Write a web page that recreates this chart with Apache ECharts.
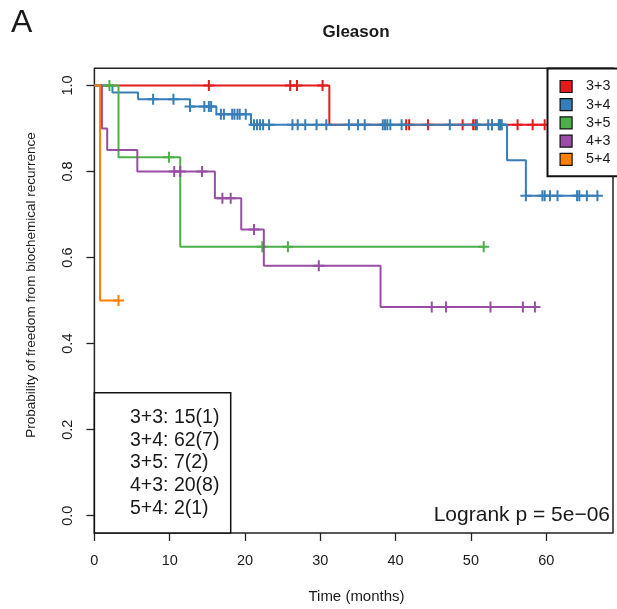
<!DOCTYPE html>
<html>
<head>
<meta charset="utf-8">
<script src="https://cdn.jsdelivr.net/npm/echarts@6/dist/echarts.min.js"></script>
<style>
  html, body { margin: 0; padding: 0; background: #fff; }
  #chart { width: 617px; height: 609px; }
</style>
</head>
<body>
<div id="chart"></div>
<script>
// Kaplan-Meier curves of freedom from biochemical recurrence by Gleason score
const groups = ['3+3', '3+4', '3+5', '4+3', '5+4'];
const totals = [15, 62, 7, 20, 2];
const eventCounts = [1, 7, 2, 8, 1];
const colors = ['#E41A1C', '#377EB8', '#4DAF4A', '#984EA3', '#FF7F00'];

// event times (months) and survival estimate after each event
const eventTimes33 = [31.2];
const eventSurv33 = [0.909];
const censor33 = [15.2, 26.0, 26.9, 30.3, 41.4, 41.8, 44.3, 48.9, 50.3, 50.6, 52.8, 53.8, 56.2, 58.2, 59.8];

const eventTimes34 = [2.4, 5.8, 12.7, 16.2, 20.8, 54.8, 57.3];
const eventSurv34 = [0.984, 0.968, 0.951, 0.933, 0.909, 0.826, 0.744];
const censor34 = [7.8, 10.5, 12.7, 14.6, 15.2, 15.5, 16.8, 17.2, 18.3, 18.6, 19.0, 19.3, 20.1,
  21.2, 21.6, 22.0, 22.4, 23.2, 26.3, 27.0, 28.0, 29.5, 30.8, 33.8, 35.0, 35.9, 38.3, 38.6,
  38.9, 39.3, 40.8, 47.2, 50.8, 52.3, 52.8, 53.7, 53.9, 54.1, 57.3, 59.5, 59.8, 60.5, 61.5,
  64.1, 64.4, 65.4, 66.8];

const eventTimes35 = [3.2, 11.4];
const eventSurv35 = [0.833, 0.625];
const censor35 = [2.0, 9.9, 22.3, 25.7, 51.7];

const eventTimes43 = [1.0, 1.7, 5.7, 16.0, 19.5, 22.5, 38.0];
const eventSurv43 = [0.90, 0.85, 0.80, 0.738, 0.665, 0.581, 0.485];
const censor43 = [10.6, 11.4, 14.3, 17.0, 18.1, 21.2, 29.8, 44.8, 46.7, 52.6, 56.9, 58.5];

const eventTimes54 = [0.75];
const eventSurv54 = [0.5];
const censor54 = [3.2];

const xTicks = [0, 10, 20, 30, 40, 50, 60];
const yTicks = [0, 0.2, 0.4, 0.6, 0.8, 1.0];
const yTickLabels = ['0.0', '0.2', '0.4', '0.6', '0.8', '1.0'];
const pValueText = 'Logrank p = 5e\u221206';

const curves = [
  { t: eventTimes33, s: eventSurv33, c: censor33 },
  { t: eventTimes34, s: eventSurv34, c: censor34 },
  { t: eventTimes35, s: eventSurv35, c: censor35 },
  { t: eventTimes43, s: eventSurv43, c: censor43 },
  { t: eventTimes54, s: eventSurv54, c: censor54 }
];

function survAt(curve, time) {
  let v = 1;
  curve.t.forEach((et, i) => { if (et <= time) v = curve.s[i]; });
  return v;
}

const FONT = '"Liberation Sans", Arial, Helvetica, sans-serif';
const INK = '#1a1a1a';
const plusPath = 'path://M4.5,0H6.5V4.5H11V6.5H6.5V11H4.5V6.5H0V4.5H4.5Z';

const series = [];
curves.forEach((cv, gi) => {
  const last = Math.max(...cv.c, ...cv.t);
  const pts = [[0, 1]];
  cv.t.forEach((et, i) => pts.push([et, cv.s[i]]));
  pts.push([last, survAt(cv, last)]);
  series.push({
    name: groups[gi],
    type: 'line',
    step: 'end',
    data: pts,
    showSymbol: false,
    symbol: 'none',
    lineStyle: { color: colors[gi], width: 2 },
    itemStyle: { color: colors[gi] },
    emphasis: { disabled: true },
    z: 2 + gi * 2
  });
  series.push({
    name: groups[gi] + ' censored',
    type: 'scatter',
    data: cv.c.map(ct => [ct, survAt(cv, ct)]),
    symbol: plusPath,
    symbolSize: 11,
    itemStyle: { color: colors[gi], opacity: 1 },
    emphasis: { disabled: true },
    z: 3 + gi * 2
  });
});

const countLines = groups.map((g, i) => g + ': ' + totals[i] + '(' + eventCounts[i] + ')').join('\n');

const chart = echarts.init(document.getElementById('chart'), null, { renderer: 'canvas' });
chart.setOption({
  animation: false,
  backgroundColor: '#fff',
  textStyle: { fontFamily: FONT },
  grid: {
    left: 94.4, right: 4, top: 68.3, bottom: 76.1,
    show: true, borderColor: '#222', borderWidth: 1.5, backgroundColor: 'transparent'
  },
  xAxis: {
    type: 'value', min: 0, max: 68.87,
    axisLine: { show: false, onZero: false },
    splitLine: { show: false },
    axisTick: { show: true, length: 8, lineStyle: { color: '#222', width: 1.3 }, customValues: xTicks },
    axisLabel: { customValues: xTicks, margin: 21, fontSize: 14.5, color: INK, fontFamily: FONT }
  },
  yAxis: {
    type: 'value', min: -0.04, max: 1.04,
    axisLine: { show: false, onZero: false },
    splitLine: { show: false },
    axisTick: { show: true, length: 8, lineStyle: { color: '#222', width: 1.3 }, customValues: yTicks },
    axisLabel: {
      customValues: yTicks, rotate: 90, margin: 19, fontSize: 14.5, color: INK, fontFamily: FONT,
      formatter: v => yTickLabels[yTicks.findIndex(t => Math.abs(t - v) < 1e-9)]
    }
  },
  legend: {
    data: groups,
    orient: 'vertical',
    left: 547.5, top: 68.5,
    padding: [11, 40, 10, 12],
    itemWidth: 12, itemHeight: 12, itemGap: 4.2,
    icon: 'rect',
    backgroundColor: '#fff',
    borderColor: '#111', borderWidth: 2,
    itemStyle: { borderColor: '#111', borderWidth: 1.2 },
    textStyle: { fontSize: 14.3, color: INK, fontFamily: FONT, lineHeight: 14, padding: [0, 0, 0, 9] },
    selectedMode: false
  },
  graphic: [
    { type: 'text', left: 11, top: 7, style: { text: 'A', font: '32px ' + FONT, fill: INK } },
    { type: 'text', x: 356, y: 32, style: { text: 'Gleason', font: 'bold 17px ' + FONT, fill: INK, align: 'center', verticalAlign: 'middle' } },
    { type: 'text', x: 356.5, y: 597, style: { text: 'Time (months)', font: '15px ' + FONT, fill: INK, align: 'center', verticalAlign: 'middle' } },
    { type: 'text', x: 31.7, y: 285, rotation: Math.PI / 2, style: { text: 'Probability of freedom from biochemical recurrence', font: '13.5px ' + FONT, fill: INK, align: 'center', verticalAlign: 'middle' } },
    { type: 'rect', z: 20, shape: { x: 94.4, y: 392.7, width: 136.3, height: 140.2 }, style: { fill: '#fff', stroke: '#111', lineWidth: 1.5 } },
    { type: 'text', z: 21, x: 130, y: 463, style: { text: countLines, font: '19.5px ' + FONT, lineHeight: 22.7, fill: INK, align: 'left', verticalAlign: 'middle' } },
    { type: 'text', z: 21, x: 610, y: 515.5, style: { text: pValueText, font: '21px ' + FONT, fill: INK, align: 'right', verticalAlign: 'middle' } }
  ],
  series: series
});
</script>
</body>
</html>
